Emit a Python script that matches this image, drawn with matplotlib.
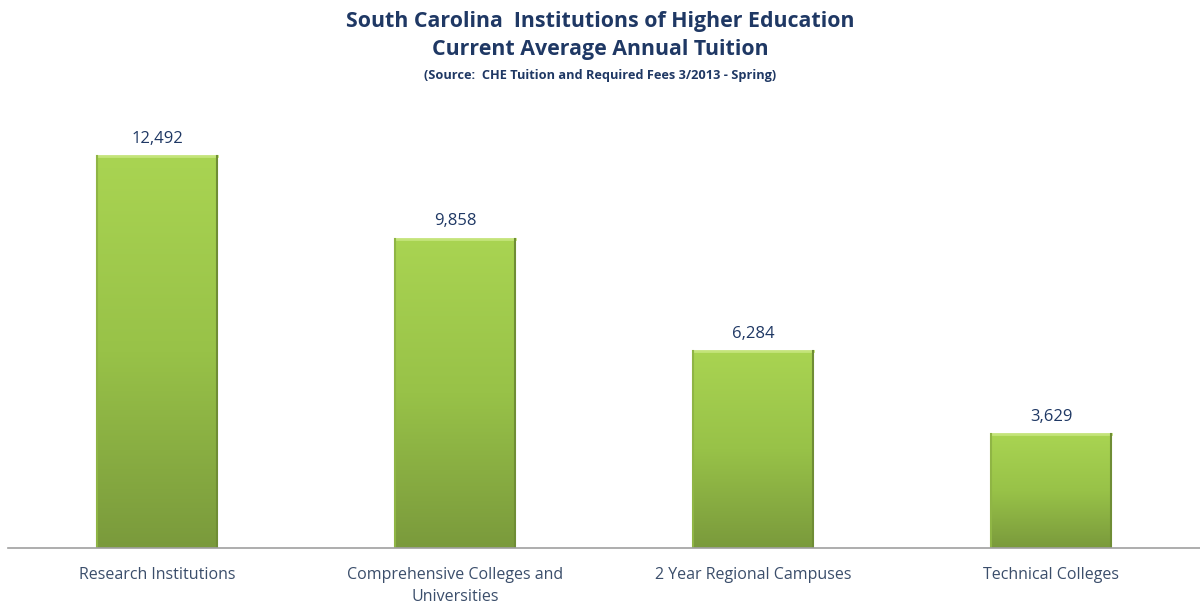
import matplotlib
matplotlib.use("Agg")
import matplotlib.pyplot as plt
import numpy as np
from matplotlib.colors import LinearSegmentedColormap

categories = ["Research Institutions", "Comprehensive Colleges and\nUniversities",
              "2 Year Regional Campuses", "Technical Colleges"]
values = [12492, 9858, 6284, 3629]
value_labels = ["12,492", "9,858", "6,284", "3,629"]

plt.rcParams['font.family'] = ['Open Sans', 'DejaVu Sans']

fig = plt.figure(figsize=(12, 6.04), dpi=100)
ax = fig.add_axes([8/1200, 56/604, 1192/1200, 439/604])
x = np.arange(len(categories))
width = 0.40
ax.set_xlim(-0.5, len(categories) - 0.5)
ax.set_ylim(0, 14000)

cmap = LinearSegmentedColormap.from_list("g", ["#7a9a3c", "#98c248", "#a9d452"])
grad = np.linspace(0, 1, 256).reshape(-1, 1)
bars = ax.bar(x, values, width=width, color="none", edgecolor="none")
for b, v in zip(bars, values):
    x0 = b.get_x(); x1 = x0 + b.get_width()
    im = ax.imshow(grad, extent=[x0, x1, 0, v], origin="lower", cmap=cmap,
                   aspect="auto", zorder=2)
    im.set_clip_path(b)
    # bevel edges
    ax.plot([x0, x1], [v, v], color="#c4e47a", lw=2, zorder=3)
    ax.plot([x0, x0], [0, v], color="#8fb545", lw=1.5, zorder=3)
    ax.plot([x1, x1], [0, v], color="#6f8d35", lw=1.5, zorder=3)

for xi, v, lab in zip(x, values, value_labels):
    ax.text(xi, v + 300, lab, ha="center", va="bottom", fontsize=12, color="#1f3864")

ax.set_xticks(x)
ax.set_xticklabels(categories, fontsize=11.5, color="#3b4e6b", linespacing=1.45)
ax.tick_params(axis="x", length=0, pad=14)
ax.set_yticks([])
for s in ["top", "right", "left"]:
    ax.spines[s].set_visible(False)
ax.spines["bottom"].set_color("#a0a0a0")
ax.spines["bottom"].set_linewidth(1.2)
ax.spines["bottom"].set_zorder(4)

fig.text(0.5, 1 - 21/604, "South Carolina  Institutions of Higher Education", ha="center", va="center",
         fontsize=15.4, fontweight="bold", color="#1f3864")
fig.text(0.5, 1 - 49/604, "Current Average Annual Tuition", ha="center", va="center",
         fontsize=15.4, fontweight="bold", color="#1f3864")
fig.text(0.5, 1 - 76/604, "(Source:  CHE Tuition and Required Fees 3/2013 - Spring)", ha="center", va="center",
         fontsize=9.2, fontweight="bold", color="#1f3864")

fig.savefig("out.png", dpi=100)
